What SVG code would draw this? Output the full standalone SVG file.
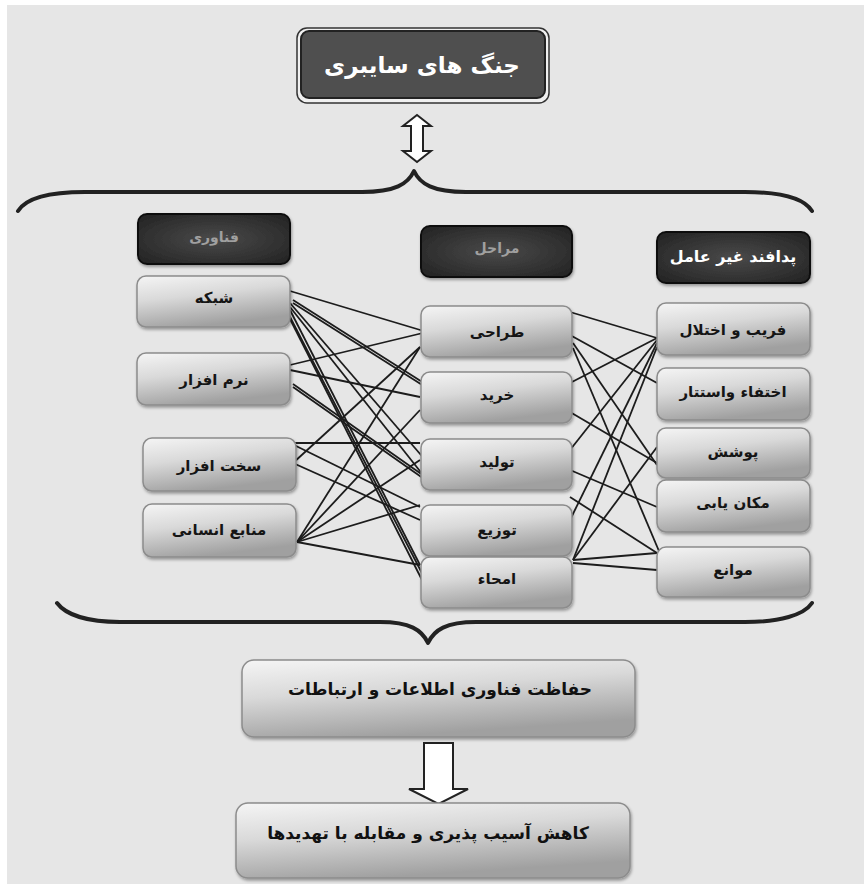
<svg xmlns="http://www.w3.org/2000/svg" width="864" height="884" viewBox="0 0 864 884">
<style>
text{font-family:"DejaVu Sans","Noto Sans",sans-serif;font-weight:bold;text-anchor:middle;dominant-baseline:middle}
.box{fill:url(#lg);stroke:#8c8c8c;stroke-width:1.5;filter:url(#sh)}
.hdr{fill:url(#dg);stroke:#111;stroke-width:2;filter:url(#sh)}
.lbl{font-size:15px;fill:#151515}
.htx{font-size:14px;fill:#a0a0a0}
.con line{stroke:#1c1c1c;stroke-width:1.8}
.brace{fill:none;stroke:#222;stroke-width:4;stroke-linecap:round;stroke-linejoin:round}
.arr{fill:#fff;stroke:#222;stroke-width:2;stroke-linejoin:miter}
</style>
<defs>
<linearGradient id="lg" x1="0" y1="0" x2="0.35" y2="1">
<stop offset="0" stop-color="#f5f5f5"/>
<stop offset="0.45" stop-color="#d9d9d9"/>
<stop offset="1" stop-color="#a0a0a0"/>
</linearGradient>
<radialGradient id="dg" cx="0.5" cy="0.5" r="0.7">
<stop offset="0" stop-color="#4a4a4a"/>
<stop offset="1" stop-color="#222"/>
</radialGradient>
<filter id="sh" x="-10%" y="-10%" width="130%" height="140%">
<feDropShadow dx="1" dy="2" stdDeviation="1.5" flood-color="#000" flood-opacity="0.35"/>
</filter>
</defs>
<rect x="0" y="0" width="864" height="884" fill="#fff"/>
<rect x="7" y="5" width="857" height="879" fill="#e6e6e6"/>

<g id="title">
<rect x="297" y="28" width="252" height="75" rx="10" fill="#f0f0f0" stroke="#333" stroke-width="1.5"/>
<rect x="301" y="31" width="244" height="67" rx="8" fill="#4f4f4f" stroke="#222" stroke-width="2"/>
<text x="422" y="66" font-size="23" fill="#fff">جنگ های سایبری</text>
</g>

<g id="double-arrow">
<polygon class="arr" points="417,115 431,126 423,126 423,151 431,151 417,162 403,151 411,151 411,126 403,126" stroke-width="1.5"/>
</g>

<g id="braces">
<path class="brace" d="M18,211 C26,198 50,192 85,192 L362,192 C395,192 408,184 414,171 C420,184 433,192 466,192 L745,192 C780,192 804,198 812,211"/>
<path class="brace" d="M57,603 C66,615 88,622 120,622 L380,622 C410,622 422,630 428,643 C434,630 446,622 476,622 L745,622 C780,622 804,615 812,603"/>
</g>

<g id="connectors" class="con">
<line x1="290" y1="291" x2="427" y2="332"/>
<line x1="293" y1="300" x2="427" y2="385"/>
<line x1="293" y1="303" x2="427" y2="388"/>
<line x1="290" y1="303" x2="427" y2="462"/>
<line x1="290" y1="307" x2="427" y2="480"/>
<line x1="290" y1="310" x2="420" y2="565"/>
<line x1="288" y1="313" x2="427" y2="583"/>
<line x1="288" y1="315" x2="422" y2="580"/>
<line x1="290" y1="365" x2="427" y2="332"/>
<line x1="290" y1="370" x2="420" y2="397"/>
<line x1="293" y1="384" x2="427" y2="478"/>
<line x1="293" y1="387" x2="427" y2="481"/>
<line x1="293" y1="463" x2="420" y2="347"/>
<line x1="290" y1="443" x2="420" y2="443"/>
<line x1="290" y1="443" x2="420" y2="507"/>
<line x1="293" y1="463" x2="420" y2="520"/>
<line x1="297" y1="542" x2="420" y2="347"/>
<line x1="297" y1="542" x2="420" y2="410"/>
<line x1="297" y1="542" x2="420" y2="460"/>
<line x1="297" y1="542" x2="420" y2="505"/>
<line x1="297" y1="542" x2="420" y2="565"/>
<line x1="570" y1="312" x2="657" y2="338"/>
<line x1="570" y1="335" x2="657" y2="383"/>
<line x1="573" y1="343" x2="657" y2="465"/>
<line x1="573" y1="348" x2="667" y2="570"/>
<line x1="570" y1="383" x2="657" y2="338"/>
<line x1="570" y1="412" x2="657" y2="463"/>
<line x1="570" y1="450" x2="657" y2="340"/>
<line x1="563" y1="467" x2="657" y2="507"/>
<line x1="570" y1="497" x2="657" y2="553"/>
<line x1="570" y1="520" x2="657" y2="343"/>
<line x1="573" y1="560" x2="657" y2="347"/>
<line x1="573" y1="560" x2="657" y2="447"/>
<line x1="573" y1="560" x2="657" y2="553"/>
<line x1="573" y1="563" x2="657" y2="570"/>
</g>

<g id="h-fanavari"><rect class="hdr" x="138" y="214" width="152" height="50" rx="9"/><text class="htx" x="214" y="238">فناوری</text></g>
<g id="h-marahel"><rect class="hdr" x="421" y="226" width="151" height="51" rx="9"/><text class="htx" x="497" y="249">مراحل</text></g>
<g id="h-padafand"><rect class="hdr" x="657" y="232" width="153" height="51" rx="9"/><text x="733" y="257" font-size="16" fill="#fff" font-weight="normal">پدافند غیر عامل</text></g>

<g id="n-shabake"><rect class="box" x="137" y="276" width="153" height="51" rx="9"/><text class="lbl" x="214" y="298">شبکه</text></g>
<g id="n-narmafzar"><rect class="box" x="137" y="353" width="153" height="52" rx="9"/><text class="lbl" x="214" y="380">نرم افزار</text></g>
<g id="n-sakhtafzar"><rect class="box" x="143" y="438" width="153" height="53" rx="9"/><text class="lbl" x="219" y="466">سخت افزار</text></g>
<g id="n-manabe"><rect class="box" x="143" y="504" width="153" height="53" rx="9"/><text class="lbl" x="219" y="530">منابع انسانی</text></g>

<g id="n-tarahi"><rect class="box" x="421" y="306" width="151" height="51" rx="9"/><text class="lbl" x="497" y="332">طراحی</text></g>
<g id="n-kharid"><rect class="box" x="421" y="372" width="151" height="51" rx="9"/><text class="lbl" x="497" y="395">خرید</text></g>
<g id="n-tolid"><rect class="box" x="421" y="439" width="151" height="51" rx="9"/><text class="lbl" x="497" y="462">تولید</text></g>
<g id="n-tozi"><rect class="box" x="421" y="505" width="151" height="51" rx="9"/><text class="lbl" x="497" y="530">توزیع</text></g>
<g id="n-emha"><rect class="box" x="421" y="557" width="151" height="51" rx="9"/><text class="lbl" x="497" y="579">امحاء</text></g>

<g id="n-farib"><rect class="box" x="657" y="303" width="153" height="52" rx="9"/><text class="lbl" x="733" y="330">فریب و اختلال</text></g>
<g id="n-ekhtefa"><rect class="box" x="657" y="368" width="153" height="52" rx="9"/><text class="lbl" x="733" y="392">اختفاء واستتار</text></g>
<g id="n-poshesh"><rect class="box" x="657" y="428" width="153" height="50" rx="9"/><text class="lbl" x="733" y="452">پوشش</text></g>
<g id="n-makan"><rect class="box" x="657" y="480" width="153" height="52" rx="9"/><text class="lbl" x="733" y="503">مکان یابی</text></g>
<g id="n-mavane"><rect class="box" x="657" y="547" width="153" height="50" rx="9"/><text class="lbl" x="733" y="570">موانع</text></g>

<g id="n-hefazat"><rect class="box" x="242" y="660" width="393" height="77" rx="12"/><text x="440" y="690" font-size="17" fill="#111">حفاظت فناوری اطلاعات و ارتباطات</text></g>

<g id="down-arrow">
<polygon class="arr" points="424,743 453,743 453,789 468,789 438.5,804 409,789 424,789"/>
</g>

<g id="n-kahesh"><rect class="box" x="236" y="803" width="394" height="75" rx="12"/><text x="428" y="834" font-size="17" fill="#111">کاهش آسیب پذیری و مقابله با تهدیدها</text></g>
</svg>
